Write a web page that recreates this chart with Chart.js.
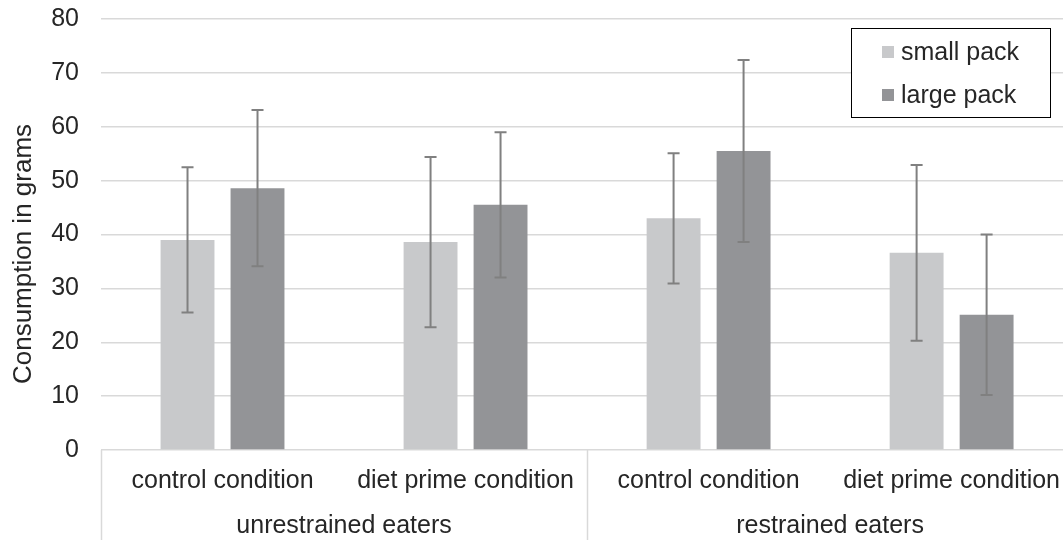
<!DOCTYPE html>
<html>
<head>
<meta charset="utf-8">
<script src="https://cdn.jsdelivr.net/npm/chart.js@4.4.1/dist/chart.umd.min.js"></script>
<style>
  html, body { margin: 0; padding: 0; background: #fff; overflow: hidden; }
  #wrap { width: 1076px; height: 540px; }
</style>
</head>
<body>
<div id="wrap"><canvas id="chart" width="1076" height="540"></canvas></div>
<script>
// data
const conditions = ["control condition", "diet prime condition", "control condition", "diet prime condition"];
const groups = ["unrestrained eaters", "restrained eaters"];
const groupSize = 2;
const smallPack = [39.0, 38.6, 43.0, 36.6];
const largePack = [48.6, 45.5, 55.5, 25.1];
const smallErr = [13.5, 15.8, 12.1, 16.3];
const largeErr = [14.5, 13.5, 16.9, 14.9];
const yTicks = [0, 10, 20, 30, 40, 50, 60, 70, 80];
const yTitle = "Consumption in grams";

const FONT = "'Liberation Sans', Arial, sans-serif";
const FS = 25;
const TEXT = "#262626";

const errorBars = {
  id: "errorBars",
  afterDatasetsDraw(chart) {
    const ctx = chart.ctx;
    const y = chart.scales.y;
    ctx.save();
    ctx.strokeStyle = "#808080";
    ctx.lineWidth = 2;
    chart.data.datasets.forEach((ds, di) => {
      const meta = chart.getDatasetMeta(di);
      meta.data.forEach((bar, i) => {
        const v = ds.data[i], e = ds.err[i];
        const top = y.getPixelForValue(v + e);
        const bot = y.getPixelForValue(v - e);
        ctx.beginPath();
        ctx.moveTo(bar.x, top); ctx.lineTo(bar.x, bot);
        ctx.moveTo(bar.x - 6, top); ctx.lineTo(bar.x + 6, top);
        ctx.moveTo(bar.x - 6, bot); ctx.lineTo(bar.x + 6, bot);
        ctx.stroke();
      });
    });
    ctx.restore();
  }
};

// second row of the category axis + separators, and the y title
const groupAxis = {
  id: "groupAxis",
  afterDraw(chart) {
    const ctx = chart.ctx;
    const x = chart.scales.x;
    const area = chart.chartArea;
    const cat = x.width / conditions.length;
    ctx.save();
    ctx.strokeStyle = "#d9d9d9";
    ctx.lineWidth = 1.5;
    for (let g = 0; g <= groups.length; g++) {
      const px = Math.round(x.left + g * groupSize * cat) + 0.5;
      ctx.beginPath();
      ctx.moveTo(px, area.bottom);
      ctx.lineTo(px, chart.height);
      ctx.stroke();
    }
    ctx.fillStyle = TEXT;
    ctx.font = FS + "px " + FONT;
    ctx.textAlign = "center";
    ctx.textBaseline = "middle";
    groups.forEach((g, i) => {
      ctx.fillText(g, x.left + (i + 0.5) * groupSize * cat, 526);
    });
    ctx.translate(24, 254);
    ctx.rotate(-Math.PI / 2);
    ctx.font = "26px " + FONT;
    ctx.fillText(yTitle, 0, 0);
    ctx.restore();
  }
};

const boxLegend = {
  id: "boxLegend",
  afterDraw(chart) {
    const ctx = chart.ctx;
    const L = 851, T = 28, W = 199, H = 89;
    ctx.save();
    ctx.fillStyle = "#fff";
    ctx.fillRect(L, T, W, H);
    ctx.strokeStyle = "#000";
    ctx.lineWidth = 1;
    ctx.strokeRect(L + 0.5, T + 0.5, W, H);
    ctx.font = FS + "px " + FONT;
    ctx.textBaseline = "middle";
    ctx.textAlign = "left";
    chart.data.datasets.forEach((ds, i) => {
      const cy = T + 24 + i * 43;
      ctx.fillStyle = ds.backgroundColor;
      ctx.fillRect(L + 31, cy - 6, 12, 12);
      ctx.fillStyle = TEXT;
      ctx.fillText(ds.label, L + 50, cy + 1);
    });
    ctx.restore();
  }
};

new Chart(document.getElementById("chart"), {
  type: "bar",
  data: {
    labels: conditions,
    datasets: [
      { label: "small pack", data: smallPack, err: smallErr, backgroundColor: "#c8c9cb" },
      { label: "large pack", data: largePack, err: largeErr, backgroundColor: "#939497" }
    ]
  },
  options: {
    responsive: false,
    animation: false,
    devicePixelRatio: 1,
    categoryPercentage: 0.576,
    barPercentage: 0.77,
    layout: { padding: { top: 19, right: 0, left: 0, bottom: 0 } },
    plugins: { legend: { display: false }, tooltip: { enabled: false } },
    scales: {
      x: {
        grid: { display: false, drawTicks: false },
        border: { display: false },
        ticks: { color: TEXT, font: { family: FONT, size: FS }, padding: 16, maxRotation: 0 },
        afterFit(s) { s.height = 90; }
      },
      y: {
        min: 0, max: 80,
        afterBuildTicks(s) { s.ticks = yTicks.map(v => ({ value: v })); },
        grid: { color: "#d9d9d9", lineWidth: 1.5, drawTicks: true, tickLength: 22, tickColor: "rgba(0,0,0,0)" },
        border: { display: false },
        ticks: { color: TEXT, font: { family: FONT, size: FS }, padding: 0 },
        afterFit(s) { s.width = 101; }
      }
    }
  },
  plugins: [errorBars, groupAxis, boxLegend]
});
</script>
</body>
</html>
